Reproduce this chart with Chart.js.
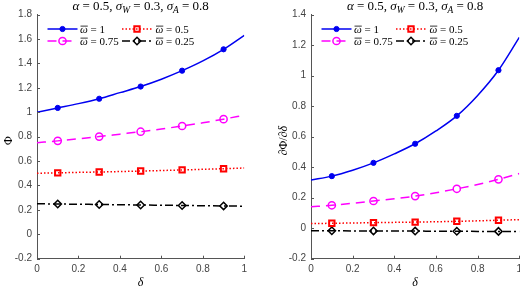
<!DOCTYPE html>
<html>
<head>
<meta charset="utf-8">
<script src="https://cdn.jsdelivr.net/npm/chart.js@4/dist/chart.umd.min.js"></script>
<style>
  body { margin: 0; background: #fff; }
  #wrap { display: flex; width: 520px; height: 287px; }
  canvas { display: block; }
</style>
</head>
<body>
<div id="wrap">
  <canvas id="left" width="260" height="287"></canvas>
  <canvas id="right" width="260" height="287"></canvas>
</div>
<script>
// delta grid (x values)
const delta = [0, 0.1, 0.2, 0.3, 0.4, 0.5, 0.6, 0.7, 0.8, 0.9, 1];
const omegaLabels = ["1", "0.75", "0.5", "0.25"];
const xTicks = [0, 0.2, 0.4, 0.6, 0.8, 1];

// left panel: Phi
const phiW1   = [1.0, 1.035, 1.07, 1.11, 1.16, 1.21, 1.27, 1.34, 1.42, 1.515, 1.63];
const phiW075 = [0.75, 0.765, 0.782, 0.80, 0.82, 0.84, 0.862, 0.887, 0.913, 0.943, 0.975];
const phiW05  = [0.50, 0.503, 0.507, 0.51, 0.514, 0.518, 0.522, 0.527, 0.532, 0.537, 0.543];
const phiW025 = [0.25, 0.248, 0.246, 0.244, 0.242, 0.240, 0.238, 0.236, 0.234, 0.232, 0.230];

// right panel: dPhi/ddelta
const dW1   = [0.315, 0.341, 0.38, 0.428, 0.487, 0.553, 0.637, 0.736, 0.87, 1.035, 1.25];
const dW075 = [0.14, 0.15, 0.163, 0.178, 0.193, 0.21, 0.232, 0.258, 0.286, 0.32, 0.358];
const dW05  = [0.03, 0.032, 0.034, 0.036, 0.038, 0.04, 0.042, 0.045, 0.048, 0.052, 0.056];
const dW025 = [-0.017, -0.017, -0.018, -0.018, -0.019, -0.019, -0.02, -0.02, -0.021, -0.021, -0.022];

const axisColor = "#555";
const tickColor = "#444";
const serif = "'Liberation Serif', 'DejaVu Serif', serif";
const sans = "'Liberation Sans', Arial, sans-serif";

const styles = [
  { color: "#0000f0", dash: [], marker: "circle", r: 2.6, fill: "#0000f0", bw: 1 },
  { color: "#ff00ff", dash: [9, 6], marker: "circle", r: 3.6, fill: "rgba(0,0,0,0)", bw: 1.5 },
  { color: "#ff0000", dash: [1.5, 2], marker: "rect", r: 3.8, fill: "rgba(0,0,0,0)", bw: 2 },
  { color: "#000000", dash: [8, 3, 2, 3], marker: "rectRot", r: 3.7, fill: "rgba(0,0,0,0)", bw: 1.5 },
];
// [row, col] of each series in the legend
const legendSlots = [[0, 0], [1, 0], [0, 1], [1, 1]];

const fmtTick = v => {
  const r = Math.round(v * 10) / 10;
  return String(r === 0 ? 0 : r);
};

function makeSets(series) {
  return series.map((vals, i) => {
    const s = styles[i];
    return {
      label: omegaLabels[i],
      data: delta.map((d, j) => ({ x: d, y: vals[j] })),
      borderColor: s.color,
      borderWidth: 1.5,
      borderDash: s.dash,
      fill: false,
      cubicInterpolationMode: "monotone",
      pointStyle: s.marker,
      pointRadius: ctx => (ctx.dataIndex % 2 === 1 ? s.r : 0),
      pointHoverRadius: 0,
      pointBorderColor: s.color,
      pointBackgroundColor: s.fill,
      pointBorderWidth: s.bw,
    };
  });
}

function drawRuns(ctx, runs, x, y, size, align) {
  const w = runs.map(r => {
    ctx.font = (r.it ? "italic " : "") + (r.sub ? size * 0.72 : size) + "px " + serif;
    return ctx.measureText(r.t).width;
  });
  const total = w.reduce((a, b) => a + b, 0);
  let cx = align === "center" ? x - total / 2 : x;
  runs.forEach((r, i) => {
    ctx.font = (r.it ? "italic " : "") + (r.sub ? size * 0.72 : size) + "px " + serif;
    ctx.fillText(r.t, cx, y + (r.sub ? size * 0.25 : 0));
    if (r.bar) {
      ctx.beginPath();
      ctx.lineWidth = 0.8;
      ctx.setLineDash([]);
      ctx.moveTo(cx + 0.5, y - size * 0.58);
      ctx.lineTo(cx + w[i], y - size * 0.58);
      ctx.stroke();
    }
    cx += w[i];
  });
}

const decor = {
  id: "decor",
  afterDraw(chart, args, opts) {
    const { ctx, chartArea: a, scales: { x, y } } = chart;
    ctx.save();
    // inward tick marks
    ctx.strokeStyle = axisColor;
    ctx.lineWidth = 1;
    ctx.beginPath();
    x.ticks.forEach(t => {
      const px = Math.round(x.getPixelForValue(t.value)) + 0.5;
      ctx.moveTo(px, a.bottom);
      ctx.lineTo(px, a.bottom - 3);
    });
    y.ticks.forEach(t => {
      const py = Math.round(y.getPixelForValue(t.value)) + 0.5;
      ctx.moveTo(a.left, py);
      ctx.lineTo(a.left + 3, py);
    });
    ctx.stroke();

    // title
    ctx.fillStyle = "#000";
    ctx.strokeStyle = "#000";
    ctx.textAlign = "left";
    ctx.textBaseline = "alphabetic";
    drawRuns(ctx, [
      { t: "α", it: true }, { t: " = 0.5, " },
      { t: "σ", it: true }, { t: "W", it: true, sub: true }, { t: " = 0.3, " },
      { t: "σ", it: true }, { t: "A", it: true, sub: true }, { t: " = 0.8" },
    ], (a.left + a.right) / 2, 9.5, 13, "center");

    // x label
    drawRuns(ctx, [{ t: "δ", it: true }], (a.left + a.right) / 2, 286, 12, "center");

    // y label
    ctx.save();
    ctx.translate(opts.yLabelX, (a.top + a.bottom) / 2 + 4);
    ctx.rotate(-Math.PI / 2);
    drawRuns(ctx, opts.yLabel, 0, 4, 12, "center");
    ctx.restore();

    // legend
    const rows = [a.top + 14.5, a.top + 26.5];
    const cols = [{ x0: 10.5, x1: 40.5, m: 25.5, t: 43 }, { x0: 85, x1: 115, m: 100, t: 118.5 }];
    styles.forEach((s, i) => {
      const [ri, ci] = legendSlots[i];
      const ly = rows[ri];
      const c = cols[ci];
      ctx.strokeStyle = s.color;
      ctx.lineWidth = 1.5;
      ctx.setLineDash(s.dash);
      ctx.beginPath();
      ctx.moveTo(a.left + c.x0, ly);
      ctx.lineTo(a.left + c.x1, ly);
      ctx.stroke();
      ctx.setLineDash([]);
      ctx.fillStyle = s.fill;
      ctx.lineWidth = s.bw;
      Chart.helpers.drawPoint(ctx, { pointStyle: s.marker, radius: s.r, borderWidth: s.bw, rotation: 0 }, a.left + c.m, ly);
      ctx.fillStyle = "#000";
      ctx.strokeStyle = "#000";
      drawRuns(ctx, [{ t: "ω", it: true, bar: true }, { t: " = " + omegaLabels[i] }], a.left + c.t, ly + 3.5, 11, "left");
    });
    ctx.restore();
  },
};

function makeChart(id, series, yMin, yMax, yWidth, padRight, yLabel, yLabelX) {
  return new Chart(document.getElementById(id), {
    type: "line",
    data: { datasets: makeSets(series) },
    plugins: [decor],
    options: {
      responsive: false,
      animation: false,
      events: [],
      layout: { padding: { top: 14.5, right: padRight, left: 0, bottom: 0 } },
      plugins: {
        legend: { display: false },
        tooltip: { enabled: false },
        decor: { yLabel: yLabel, yLabelX: yLabelX },
      },
      scales: {
        x: {
          type: "linear",
          min: 0,
          max: 1,
          afterBuildTicks: s => { s.ticks = xTicks.map(v => ({ value: v })); },
          ticks: { color: tickColor, font: { family: sans, size: 10 }, padding: 5, maxRotation: 0, callback: fmtTick },
          grid: { drawOnChartArea: false, drawTicks: false },
          border: { color: axisColor, width: 1 },
          afterFit: s => { s.height = 28.3; s.paddingLeft = 0; s.paddingRight = 0; },
        },
        y: {
          min: yMin,
          max: yMax,
          ticks: { stepSize: 0.2, color: tickColor, font: { family: sans, size: 10 }, padding: 5, callback: fmtTick },
          grid: { drawOnChartArea: false, drawTicks: false },
          border: { color: axisColor, width: 1 },
          afterFit: s => { s.width = yWidth; s.paddingTop = 0; s.paddingBottom = 0; },
        },
      },
    },
  });
}

makeChart("left", [phiW1, phiW075, phiW05, phiW025], -0.2, 1.8, 37, 15.7,
  [{ t: "Φ" }], 8);
makeChart("right", [dW1, dW075, dW05, dW025], -0.2, 1.4, 51, 0.7,
  [{ t: "∂", it: true }, { t: "Φ" }, { t: "/" }, { t: "∂δ", it: true }], 23);
</script>
</body>
</html>
